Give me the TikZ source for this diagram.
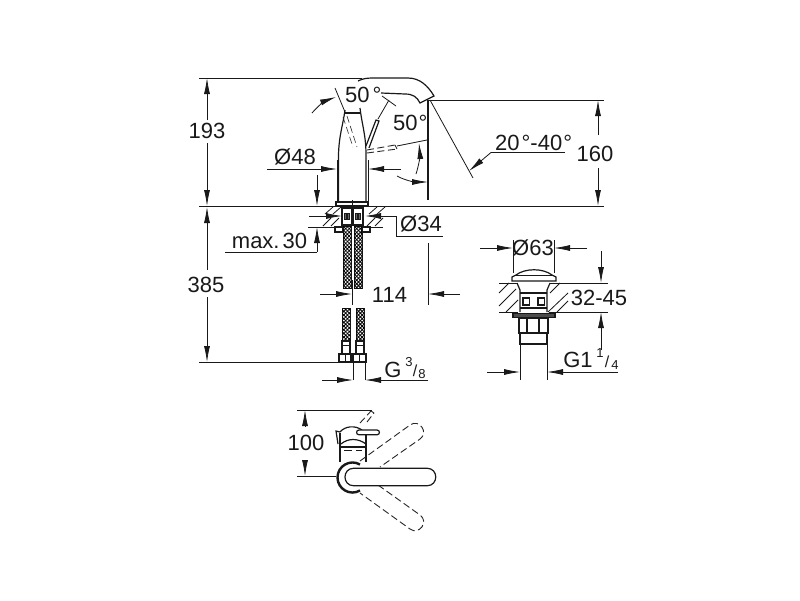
\documentclass[tikz,border=0pt]{standalone}
\usepackage{fontspec}
\setmainfont{Liberation Sans}
\usetikzlibrary{arrows.meta,patterns.meta}

\tikzset{
  thin line/.style={line width=0.8pt, draw=black!90},
  outline/.style={line width=1.2pt, draw=black!90},
  phantom/.style={line width=0.9pt, draw=black!85, dash pattern=on 7pt off 3.5pt},
  dim/.style={thin line, -{Latex[width=6pt,length=16pt]}},
  label/.style={inner sep=0pt, text=black!90, font=\fontsize{22}{22}\selectfont},
  small label/.style={inner sep=0pt, text=black!90, font=\fontsize{13}{13}\selectfont},
  braid/.style={pattern={Lines[angle=45,distance=2.6pt,line width=0.9pt]}},
  braid back/.style={pattern={Lines[angle=-45,distance=2.6pt,line width=0.9pt]}},
  hatching/.style={thin line}
}

\begin{document}
\begin{tikzpicture}[x=1pt, y=-1pt]
  \useasboundingbox (0,0) rectangle (800,600);

  % reference lines
  \draw[thin line] (199,78) -- (362,78);
  \draw[thin line] (199,206.5) -- (604,206.5);
  \draw[thin line] (199,362) -- (340,362);
  \draw[thin line] (428,100) -- (604,100);

  % spout and body
  \draw[outline] (358,81) .. controls (362,79) and (366,78) .. (372,78) -- (408,78)
    .. controls (420,78) and (428,86) .. (434,96) -- (420,103)
    .. controls (417,97) and (413,94) .. (405,94) -- (381,93);
  \draw[outline] (345,110) .. controls (343,125) and (339,135) .. (338.5,155) -- (338.5,202);
  \draw[outline] (360,108) .. controls (362,125) and (366,135) .. (366,155) -- (366,202);
  \draw[outline] (345,113) -- (360,113);
  \draw[outline] (336,202) rectangle (368,206);
  \draw[thin line] (337,160) -- (337,202) (368,160) -- (368,202);
  \draw[phantom, line width=0.6pt] (347,116) -- (357,147) (343,117) -- (353,147);

  % lever up
  \draw[outline] (366,146) -- (376,120) -- (379,121) -- (369,148);
  \draw[thin line] (378,119) -- (389,100);
  \draw[thin line] (382,96) -- (396,106);
  \draw[thin line] (335,88) -- (345,112);
  % lever down
  \draw[phantom] (367,150) -- (395,145) (367,153) -- (397,149);
  \draw[thin line] (395,145) -- (397,149) (397,146) -- (427,140);

  % angle arrows
  \draw[dim] (312,113) .. controls (318,106) and (325,101) .. (336,97);
  \node[label, anchor=west] (angle a) at (345,95) {50\kern3pt°};
  \node[label, anchor=west] (angle b) at (393,123) {50\kern1pt°};
  \draw[dim] (397,176) .. controls (406,181) and (416,182) .. (428,182);
  \draw[dim] (416,174) .. controls (419,165) and (420,155) .. (419,143);
  \draw[outline] (428,100) -- (428,200);
  \draw[thin line] (430,100) -- (473,178);
  \draw[dim] (491,152.5) -- (469,171);
  \draw[thin line] (491,152.5) -- (565,152.5);
  \node[label, anchor=west] (tilt) at (495,143) {20\kern2pt°-40\kern1pt°};

  % outer dimensions
  \draw[dim] (207,120) -- (207,78);
  \node[label] (height) at (207,131) {193};
  \draw[dim] (207,143) -- (207,206);
  \draw[dim] (207,270) -- (207,207);
  \node[label] (hose) at (206,285) {385};
  \draw[dim] (207,297) -- (207,362);
  \draw[dim] (598,135) -- (598,100);
  \node[label] (spout) at (595,154) {160};
  \draw[dim] (598,168) -- (598,206);

  % diameter body
  \node[label] (body) at (295,157) {Ø48};
  \draw[dim] (267,169) -- (337,169);
  \draw[dim] (401,169) -- (368,169);
  \draw[dim] (317,175) -- (317,206);

  % deck, mounting
  \draw[thin line] (308,227) -- (340,227) (367,227) -- (383,227);
  \foreach \x in {325,333} \draw[hatching] (\x,214) -- (\x+8,207) (\x-2,226) -- (\x+6,218);
  \foreach \x in {369,377} \draw[hatching] (\x,214) -- (\x+8,207) (\x-2,226) -- (\x+6,218);
  \draw[outline] (335,227) rectangle (343,232) (362,227) rectangle (370,232);
  \draw[outline] (342,208) rectangle (352,225) (353,208) rectangle (363,225);
  \foreach \x in {344,347,355,358} \draw[thin line, fill=black!60] (\x,213) rectangle (\x+2.5,219);
  \draw[dim] (309,216) -- (342,216);
  \draw[dim] (396,216) -- (365,216);
  \draw[thin line] (396,216) -- (396,236.5) -- (443,236.5);
  \node[label] (plate) at (421,224) {Ø34};
  \draw[thin line] (225,252) -- (317,252);
  \draw[dim] (317,252) -- (317,227);
  \node[label] (deck) at (269.5,241) {max.\kern3pt 30};

  % hoses, upper part
  \foreach \x in {343,354} {
    \draw[thin line, braid] (\x,226) rectangle (\x+8,288);
    \fill[braid back] (\x,226) rectangle (\x+8,288);
  }
  \draw[thin line] (352.5,200) -- (352.5,226);
  \draw[thin line] (352.5,280) -- (352.5,305);
  % hoses, lower part
  \foreach \x in {342,356} {
    \draw[thin line, braid] (\x,308) rectangle (\x+8,340);
    \fill[braid back] (\x,308) rectangle (\x+8,340);
    \draw[outline] (\x,341) rectangle (\x+8,354);
    \draw[thin line] (\x+1,345) -- (\x+7,345);
  }
  \draw[outline] (339,354) rectangle (351,362) (353,354) rectangle (366,362);
  \draw[thin line] (345,354) -- (345,362) (359,354) -- (359,362);

  % hose dimensions
  \draw[dim] (320,294) -- (352,294);
  \node[label] (offset) at (389.5,294.5) {114};
  \draw[dim] (460,294) -- (428,294);
  \draw[thin line] (428,243) -- (428,305);
  \draw[thin line] (353,362) -- (353,380) (365,362) -- (365,380);
  \draw[dim] (322,380) -- (353,380);
  \draw[dim] (428,380) -- (365,380);
  \node[label] (thread) at (393,370) {G};
  \node[small label] (thread num) at (409,362) {3};
  \node[small label, font=\fontsize{16}{16}\selectfont] (thread slash) at (415,371) {/};
  \node[small label] (thread den) at (422,374) {8};

  % waste: cap and deck
  \draw[thin line] (513,240) -- (513,273) (554,240) -- (554,273);
  \draw[dim] (480,248) -- (513,248);
  \draw[dim] (587,248) -- (554,248);
  \node[label] (waste) at (533,248) {Ø63};
  \draw[outline] (516,275) .. controls (525,268) and (543,268) .. (552,275) -- (556,277) -- (556,281) -- (512,281) -- (512,277) -- cycle;
  \draw[thin line] (514,275) -- (554,275);
  \draw[thin line] (499,283) -- (517,283) (550,283) -- (608,283);
  \draw[thin line] (499,312) -- (518,312) (549,312) -- (608,312);
  \foreach \a/\b/\c/\d in {499/293/509/283, 499/306/516/289, 506/312/518/300, 548/312/568/293, 550/293/560/283, 557/312/568/301}
    \draw[hatching] (\a,\b) -- (\c,\d);
  \draw[outline] (517,283) -- (520,290) -- (520,312) (550,283) -- (547,290) -- (547,312);
  \draw[outline] (520,293) -- (547,293) (520,308) -- (547,308);
  \draw[outline] (523,298) rectangle (529.5,305) (538,298) rectangle (544.5,305);
  \draw[outline, fill=black!70] (513,313.5) rectangle (555,317.5);
  \draw[outline] (519,318) rectangle (548,333);
  \draw[outline] (527,318) -- (527,333) (539,318) -- (539,333);
  \draw[outline] (520,333) rectangle (547,344);
  \draw[thin line] (520,344) -- (520,380) (547,344) -- (547,380);
  \draw[dim] (487,372) -- (520,372);
  \draw[dim] (618,372) -- (547,372);
  \node[label] (waste thread) at (578,360) {G1};
  \node[small label] (waste num) at (600,353) {1};
  \node[small label, font=\fontsize{16}{16}\selectfont] (waste slash) at (607,362) {/};
  \node[small label] (waste den) at (615,365) {4};
  \draw[dim] (601,251) -- (601,283);
  \draw[dim] (601,350) -- (601,312);
  \node[label, fill=white, inner sep=1pt] (deck range) at (599,298) {32-45};

  % top view
  \draw[thin line] (297,410) -- (372,410) (297,476) -- (336,476);
  \draw[dim] (305,427) -- (305,410);
  \node[label] (reach) at (306,443) {100};
  \draw[dim] (305,460) -- (305,476);
  \draw[outline] (340,433) -- (340,462) (366,433) -- (366,462);
  \draw[outline] (340,432) -- (336,431) -- (338,444) (340,432) .. controls (345,426) and (355,425) .. (362,430) (341,444) .. controls (348,438) and (358,438) .. (366,444);
  \draw[outline] (341,447) -- (366,447);
  \draw[thin line] (344,450) -- (352,450) (356,450) -- (362,450);
  \draw[outline, fill=white] (359,430) -- (377,430) .. controls (380.2,430) and (380.2,434.8) .. (377,434.8) -- (359,434.8) .. controls (355.8,434.8) and (355.8,430) .. (359,430) -- cycle;
  \draw[phantom] (360,423) -- (371,411) (367,422) -- (374,413) (371,411) -- (374,413);
  \draw[phantom] (360,461) -- (410,425) .. controls (419.2,418.4) and (429.2,432.4) .. (420,439) -- (380,467);
  \draw[phantom] (378,485) -- (420,515) .. controls (429.2,521.6) and (419.2,535.6) .. (410,529) -- (360,493);
  \draw[line width=2.4pt, black!90] (360,464.5) .. controls (350,458.7) and (337.5,466) .. (337.5,477.5) .. controls (337.5,489) and (350,496.3) .. (360,490.5);
  \draw[outline, fill=white] (353.75,468.25) .. controls (342.08,468.25) and (342.08,485.75) .. (353.75,485.75) -- (427,485.75) .. controls (438.67,485.75) and (438.67,468.25) .. (427,468.25) -- cycle;
\end{tikzpicture}
\end{document}
